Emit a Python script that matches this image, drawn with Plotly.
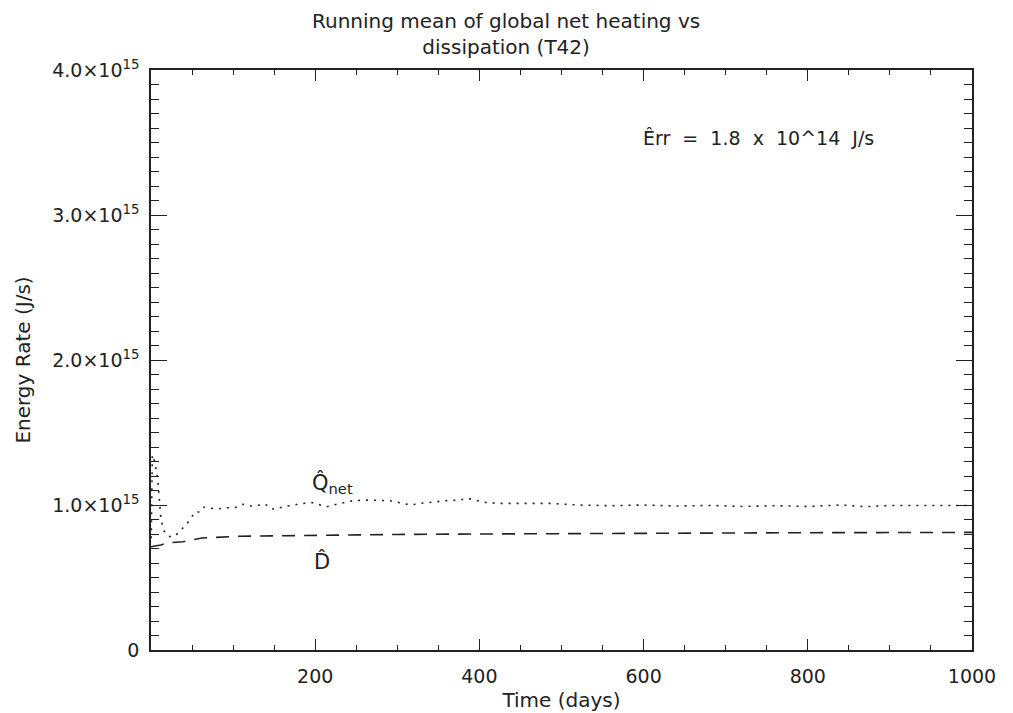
import plotly.graph_objects as go

# ---- data ----
t_q = [0.3, 1.6, 4.9, 6.9, 8.2, 8.9, 9.7, 11, 11.8, 13.4, 15, 20.7, 25.6, 31.7, 37.4, 43.5,
       49.6, 53.6, 59.7, 64.6, 71.9, 80, 90, 104, 112, 122, 133, 139, 145, 151, 161, 173,
       185, 196, 206, 214, 222, 234, 246, 263, 279, 291, 303, 316, 328, 344, 360, 376, 386,
       397, 409, 425, 445, 465, 486, 520, 560, 600, 640, 680, 720, 760, 800, 840, 870, 900,
       940, 1000]
q_net = [0.77, 1.345, 1.29, 1.234, 1.18, 1.13, 1.03, 0.98, 0.924, 0.869, 0.828, 0.786, 0.779,
         0.80, 0.834, 0.869, 0.917, 0.952, 0.952, 0.986, 0.979, 0.972, 0.98, 0.984, 1.005,
         0.993, 1.0, 1.007, 0.977, 0.97, 0.988, 1.0, 1.011, 1.016, 1.0, 0.988, 1.0, 1.016,
         1.03, 1.034, 1.034, 1.03, 1.016, 1.0, 1.011, 1.023, 1.03, 1.034, 1.046, 1.03, 1.016,
         1.011, 1.011, 1.007, 1.011, 1.0, 0.995, 1.0, 0.993, 0.997, 0.99, 0.995, 0.99, 1.0,
         0.988, 0.997, 0.997, 0.997]  # units of 1e15 J/s

t_d = [0, 5, 12, 19, 39, 62, 84, 108, 130, 155, 218, 300, 400, 500, 600, 800, 1000]
d_diss = [0.712, 0.718, 0.724, 0.738, 0.747, 0.772, 0.779, 0.784, 0.786, 0.788, 0.793,
          0.797, 0.800, 0.803, 0.806, 0.809, 0.811]  # units of 1e15 J/s

x_tickvals = [200, 400, 600, 800, 1000]
y_tickvals = [0, 1e15, 2e15, 3e15, 4e15]
y_ticktext = ["0", "1.0×10<sup>15</sup>", "2.0×10<sup>15</sup>",
              "3.0×10<sup>15</sup>", "4.0×10<sup>15</sup>"]

title_text = "Running mean of global net heating vs<br>dissipation (T42)"

SCALE = 1e15
FONT = "DejaVu Sans"
INK = "#222222"

fig = go.Figure()
fig.add_trace(go.Scatter(
    x=t_q, y=[v * SCALE for v in q_net], mode="lines",
    line=dict(color=INK, width=1.6, dash="2px,6px"), showlegend=False))
fig.add_trace(go.Scatter(
    x=t_d, y=[v * SCALE for v in d_diss], mode="lines",
    line=dict(color=INK, width=1.6, dash="13px,9px"), showlegend=False))

# title (as annotation so both lines stay inside the page)
fig.add_annotation(x=(506 - 151) / 821, xref="paper", y=1 + (70 - 34) / 580, yref="paper",
                   text=title_text, showarrow=False, xanchor="center", yanchor="middle",
                   font=dict(family=FONT, size=20, color=INK))

fig.add_annotation(x=203, y=1.15e15, text="Q\u0302<sub>net</sub>", showarrow=False,
                   xanchor="left", xshift=-8,
                   font=dict(family=FONT, size=21, color=INK))
fig.add_annotation(x=208, y=0.61e15, text="D\u0302", showarrow=False,
                   font=dict(family=FONT, size=21, color=INK))
fig.add_annotation(x=740, y=3.53e15, text="E\u0302rr  =  1.8  x  10^14  J/s", showarrow=False,
                   font=dict(family=FONT, size=19, color=INK))

fig.update_layout(
    width=1013, height=713,
    margin=dict(l=151, r=41, t=70, b=63, autoexpand=False),
    paper_bgcolor="white", plot_bgcolor="white",
    font=dict(family=FONT, color=INK),
    xaxis=dict(range=[0, 1000], tickvals=x_tickvals, ticks="inside", ticklen=11,
               tickwidth=1.3, tickcolor=INK, showline=True, linecolor=INK, linewidth=1.5,
               mirror="allticks", showgrid=False, zeroline=False, automargin=False,
               tickfont=dict(family=FONT, size=19, color=INK), ticklabelstandoff=8,
               minor=dict(dtick=50, tick0=0, ticks="inside", ticklen=5, tickwidth=1.2,
                          tickcolor=INK, showgrid=False),
               title=dict(text="Time (days)", font=dict(family=FONT, size=20, color=INK),
                          standoff=7)),
    yaxis=dict(range=[0, 4e15], tickvals=y_tickvals, ticktext=y_ticktext, ticks="inside",
               ticklen=16, tickwidth=1.3, tickcolor=INK, showline=True, linecolor=INK,
               linewidth=1.5, mirror="allticks", showgrid=False, zeroline=False,
               automargin=False,
               tickfont=dict(family=FONT, size=19, color=INK), ticklabelstandoff=6,
               minor=dict(dtick=1e14, tick0=0, ticks="inside", ticklen=8, tickwidth=1.2,
                          tickcolor=INK, showgrid=False),
               title=dict(text="Energy Rate (J/s)", font=dict(family=FONT, size=20, color=INK),
                          standoff=16)),
)

fig.write_html("out.html")
